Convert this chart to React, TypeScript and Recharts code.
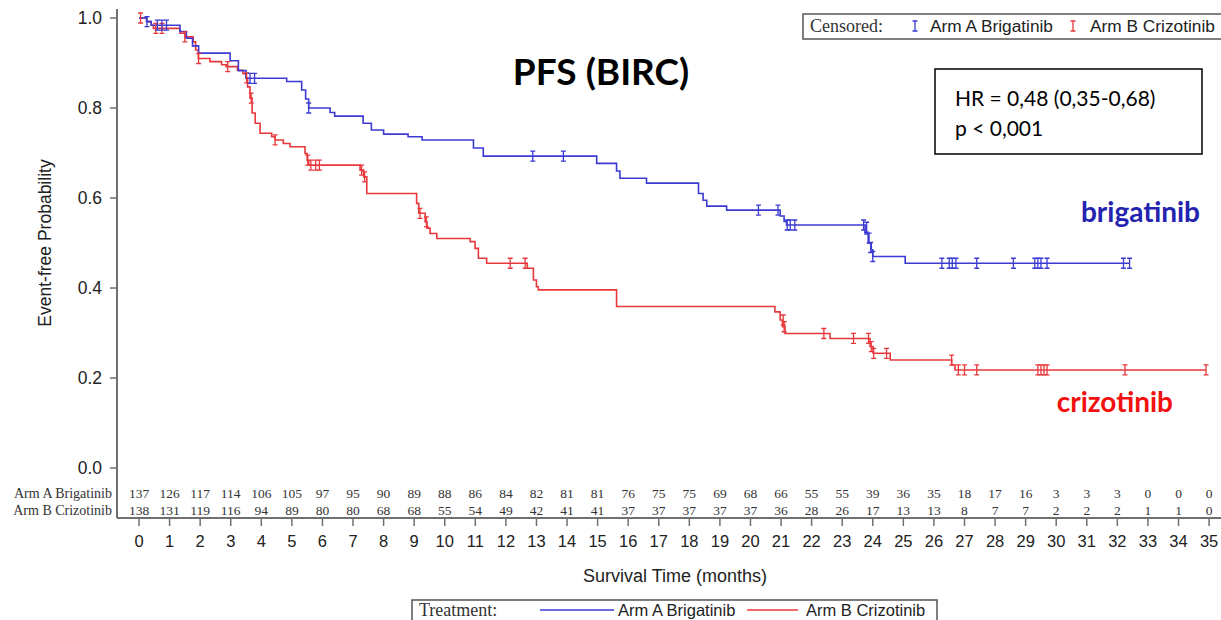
import React from 'react';
import { ComposedChart, Line, Scatter, XAxis, YAxis } from 'recharts';

// ---- data ----
const months = [0,1,2,3,4,5,6,7,8,9,10,11,12,13,14,15,16,17,18,19,20,21,22,23,24,25,26,27,28,29,30,31,32,33,34,35];
const yTicks = [0, 0.2, 0.4, 0.6, 0.8, 1.0];

const atRiskA = [137,126,117,114,106,105,97,95,90,89,88,86,84,82,81,81,76,75,75,69,68,66,55,55,39,36,35,18,17,16,3,3,3,0,0,0];
const atRiskB = [138,131,119,116,94,89,80,80,68,68,55,54,49,42,41,41,37,37,37,37,37,36,28,26,17,13,13,8,7,7,2,2,2,1,1,0];

// Kaplan-Meier steps [time, survival]
const stepsA: [number, number][] = [
  [0,1.0],[0.25,0.992],[0.4,0.984],[1.34,0.970],[1.55,0.955],[1.75,0.938],[1.95,0.922],
  [2.98,0.905],[3.25,0.883],[3.5,0.866],[4.83,0.859],[5.32,0.84],[5.45,0.82],[5.55,0.80],
  [6.25,0.79],[6.4,0.782],[7.33,0.766],[7.6,0.751],[8.0,0.742],[8.8,0.736],[9.26,0.729],
  [10.94,0.711],[11.26,0.693],[14.97,0.677],[15.62,0.660],[15.73,0.644],[16.6,0.633],
  [18.3,0.61],[18.45,0.595],[18.57,0.582],[19.22,0.573],[20.97,0.56],[21.1,0.548],[21.18,0.540],
  [23.75,0.52],[23.85,0.50],[23.95,0.485],[24.0,0.470],[25.06,0.455],[32.4,0.455]
];
const stepsB: [number, number][] = [
  [0,1.0],[0.25,0.992],[0.4,0.984],[0.47,0.977],[1.34,0.966],[1.5,0.958],[1.77,0.947],[1.85,0.929],
  [1.94,0.910],[2.32,0.903],[2.7,0.896],[2.85,0.892],[3.22,0.884],[3.4,0.876],[3.5,0.867],
  [3.55,0.847],[3.63,0.822],[3.7,0.789],[3.8,0.766],[3.96,0.744],[4.34,0.736],[4.45,0.729],
  [4.72,0.721],[4.94,0.714],[5.43,0.699],[5.5,0.684],[5.55,0.673],[7.23,0.662],[7.35,0.647],
  [7.45,0.610],[9.08,0.588],[9.15,0.566],[9.36,0.547],[9.42,0.533],[9.52,0.521],[9.74,0.510],
  [10.83,0.503],[10.99,0.488],[11.1,0.466],[11.37,0.455],[12.7,0.444],[12.9,0.418],[13.0,0.403],
  [13.06,0.396],[15.62,0.359],[20.8,0.347],[20.97,0.329],[21.05,0.314],[21.13,0.299],[22.6,0.288],
  [23.91,0.270],[24.01,0.255],[24.57,0.240],[26.58,0.229],[26.69,0.218],[34.9,0.218]
];

// censored observations [time, survival]
const censoredA: [number, number][] = [
  [0.26,0.992],[0.6,0.984],[0.75,0.984],[0.9,0.984],[3.63,0.866],[3.78,0.866],[5.55,0.80],
  [12.88,0.693],[13.88,0.693],[20.26,0.573],[20.9,0.573],[21.2,0.54],[21.3,0.54],[21.45,0.54],
  [23.7,0.54],[23.8,0.535],[23.88,0.511],[23.93,0.49],[24.0,0.47],[26.26,0.455],[26.5,0.455],
  [26.6,0.455],[26.72,0.455],[27.4,0.455],[28.6,0.455],[29.3,0.455],[29.4,0.455],[29.5,0.455],
  [29.7,0.455],[32.2,0.455],[32.4,0.455]
];
const censoredB: [number, number][] = [
  [0.05,1.0],[0.55,0.977],[0.75,0.977],[1.5,0.958],[1.95,0.91],[2.9,0.892],[3.52,0.867],[3.67,0.822],
  [4.45,0.729],[5.52,0.684],[5.62,0.673],[5.78,0.673],[5.9,0.673],[7.28,0.662],[7.38,0.647],
  [9.19,0.566],[9.4,0.547],[12.14,0.455],[12.63,0.455],[21.07,0.329],[21.1,0.314],[22.4,0.299],
  [23.37,0.288],[23.86,0.288],[23.95,0.27],[24.03,0.255],[24.45,0.255],[26.58,0.24],[26.8,0.218],
  [27.0,0.218],[27.4,0.218],[29.4,0.218],[29.5,0.218],[29.6,0.218],[29.7,0.218],[32.25,0.218],[34.9,0.218]
];

const BLUE = '#3b3bd4';
const RED = '#e8383c';
const AXIS = '#707070';
const ROW_A = -0.0556;
const ROW_B = -0.0933;

const toPts = (arr: [number, number][]) => arr.map(([t, s]) => ({ t, s }));
const lineA = toPts(stepsA);
const lineB = toPts(stepsB);
const censA = toPts(censoredA);
const censB = toPts(censoredB);
const riskA = months.map((t, i) => ({ t, s: ROW_A, n: atRiskA[i] }));
const riskB = months.map((t, i) => ({ t, s: ROW_B, n: atRiskB[i] }));

const censorShape = (color: string) => (props: any) => {
  const { cx, cy } = props;
  if (cx == null || cy == null) return <g />;
  return (
    <path
      d={`M${cx},${cy - 5}V${cy + 5}M${cx - 2.5},${cy - 5}H${cx + 2.5}M${cx - 2.5},${cy + 5}H${cx + 2.5}`}
      stroke={color}
      strokeWidth={1.3}
      fill="none"
    />
  );
};

const riskShape = (props: any) => {
  const { cx, cy, payload } = props;
  return (
    <text x={cx} y={cy} textAnchor="middle" dominantBaseline="central"
      fontFamily="'Liberation Serif', serif" fontSize={13.5} fill="#333">
      {payload.n}
    </text>
  );
};

const ibeam = (x: number, y: number, color: string) => (
  <path d={`M${x},${y - 5}V${y + 5}M${x - 2.5},${y - 5}H${x + 2.5}M${x - 2.5},${y + 5}H${x + 2.5}`}
    stroke={color} strokeWidth={1.3} fill="none" />
);

export default function App() {
  const sans = "'Liberation Sans', Arial, sans-serif";
  const serif = "'Liberation Serif', 'Times New Roman', serif";
  const cal = "Lato, 'Open Sans', sans-serif";
  return (
    <div style={{ position: 'absolute', left: 0, top: 0, width: 1221, height: 620, background: '#fff' }}>
      <ComposedChart width={1221} height={620} margin={{ top: 9, right: 0, bottom: 0, left: 0 }}>
        <XAxis
          dataKey="t"
          type="number"
          domain={[-0.72, 35.39]}
          allowDataOverflow
          ticks={months}
          interval={0}
          height={102}
          tickSize={8}
          tickMargin={9}
          axisLine={{ stroke: AXIS, strokeWidth: 2 }}
          tickLine={{ stroke: AXIS, strokeWidth: 1.5 }}
          tick={{ fontFamily: sans, fontSize: 16.5, fill: '#222' }}
        />
        <XAxis
          xAxisId="top"
          orientation="top"
          dataKey="t"
          type="number"
          domain={[-0.72, 35.39]}
          allowDataOverflow
          height={0}
          tick={false}
          tickLine={false}
          axisLine={{ stroke: AXIS, strokeWidth: 2 }}
        />
        <YAxis
          type="number"
          domain={[-0.111, 1.02]}
          allowDataOverflow
          ticks={yTicks}
          interval={0}
          width={117}
          tickSize={7}
          tickMargin={8}
          tickFormatter={(v: number) => v.toFixed(1)}
          axisLine={{ stroke: AXIS, strokeWidth: 2 }}
          tickLine={{ stroke: AXIS, strokeWidth: 1.5 }}
          tick={{ fontFamily: sans, fontSize: 17.5, fill: '#222' }}
        />
        <Line data={lineB} dataKey="s" type="stepAfter" stroke={RED} strokeWidth={1.6}
          dot={false} activeDot={false} isAnimationActive={false} />
        <Line data={lineA} dataKey="s" type="stepAfter" stroke={BLUE} strokeWidth={1.6}
          dot={false} activeDot={false} isAnimationActive={false} />
        <Scatter data={censB} dataKey="s" shape={censorShape(RED)} isAnimationActive={false} />
        <Scatter data={censA} dataKey="s" shape={censorShape(BLUE)} isAnimationActive={false} />
        <Scatter data={riskA} dataKey="s" shape={riskShape} isAnimationActive={false} />
        <Scatter data={riskB} dataKey="s" shape={riskShape} isAnimationActive={false} />
      </ComposedChart>

      <svg width={1221} height={620} style={{ position: 'absolute', left: 0, top: 0, pointerEvents: 'none' }}>
        {/* y axis label */}
        <text x={0} y={0} transform="translate(51,243) rotate(-90)" textAnchor="middle"
          fontFamily={sans} fontSize={17.5} fill="#222">Event-free Probability</text>

        {/* risk table row labels */}
        <text x={112} y={493} textAnchor="end" dominantBaseline="central" fontFamily={serif} fontSize={14} fill="#333">Arm A Brigatinib</text>
        <text x={112} y={510} textAnchor="end" dominantBaseline="central" fontFamily={serif} fontSize={14} fill="#333">Arm B Crizotinib</text>

        {/* x axis title */}
        <text x={675} y={582} textAnchor="middle" fontFamily={sans} fontSize={18} fill="#222">Survival Time (months)</text>

        {/* title */}
        <text x={601} y={85} textAnchor="middle" fontFamily={cal} fontWeight={700} fontSize={37} fill="#000">PFS (BIRC)</text>

        {/* HR box */}
        <rect x={935} y={69} width={267} height={85} fill="#fff" stroke="#000" strokeWidth={1.5} />
        <text x={955} y={106} fontFamily={cal} fontSize={21} fill="#000">HR = 0,48 (0,35-0,68)</text>
        <text x={955} y={136} fontFamily={cal} fontSize={21} fill="#000">p &lt; 0,001</text>

        {/* arm labels */}
        <text x={1200} y={222} textAnchor="end" fontFamily={cal} fontWeight={700} fontSize={28} fill="#2323b0">brigatinib</text>
        <text x={1173} y={412} textAnchor="end" fontFamily={cal} fontWeight={700} fontSize={28} fill="#f21010">crizotinib</text>

        {/* censored legend */}
        <rect x={803} y={14} width={430} height={25} fill="#fff" stroke="#555" strokeWidth={1.5} />
        <text x={810} y={32} fontFamily={serif} fontSize={18} fill="#333">Censored:</text>
        {ibeam(915, 26, BLUE)}
        <text x={930} y={32} fontFamily={sans} fontSize={17.3} fill="#222">Arm A Brigatinib</text>
        {ibeam(1073, 26, RED)}
        <text x={1090} y={32} fontFamily={sans} fontSize={17.3} fill="#222">Arm B Crizotinib</text>

        {/* treatment legend */}
        <rect x={412} y={600} width={525} height={30} fill="#fff" stroke="#555" strokeWidth={1.5} />
        <text x={419} y={616} fontFamily={serif} fontSize={18} fill="#333">Treatment:</text>
        <line x1={540} y1={610} x2={614} y2={610} stroke={BLUE} strokeWidth={1.6} />
        <text x={618} y={616} fontFamily={sans} fontSize={16.5} fill="#222">Arm A Brigatinib</text>
        <line x1={747} y1={610} x2={798} y2={610} stroke={RED} strokeWidth={1.6} />
        <text x={806} y={616} fontFamily={sans} fontSize={16.5} fill="#222">Arm B Crizotinib</text>
      </svg>
    </div>
  );
}
